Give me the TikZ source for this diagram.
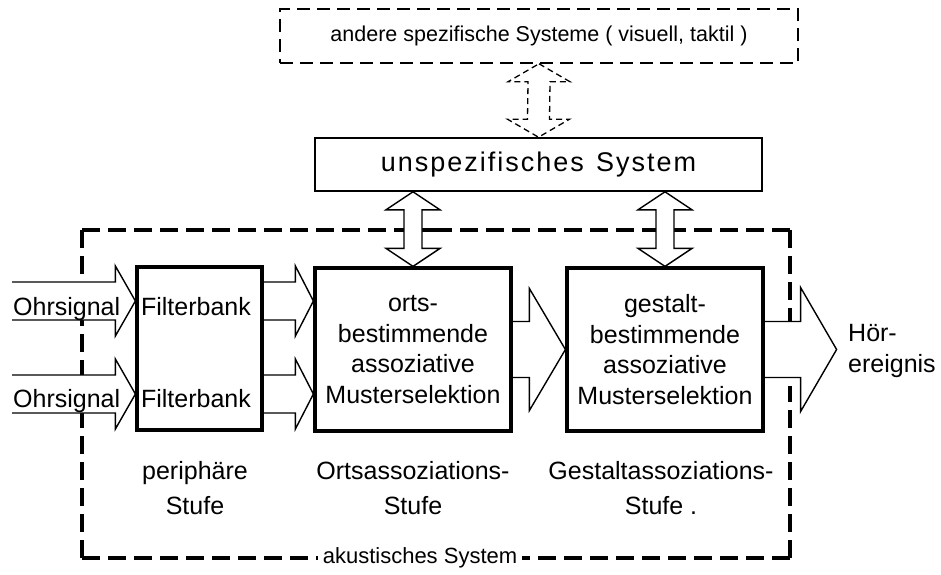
\documentclass[tikz,border=0pt]{standalone}
\usepackage{fontspec}
\setmainfont{Liberation Sans}
\usetikzlibrary{calc,backgrounds}
\newcommand\lsp{\hspace{2pt}}
% horizontal fat arrow: #1 start, #2 tip, #3 shaft half, #4 head half, #5 head length
\newcommand\harrow[5]{\filldraw[fatarr] ($(#1)+(0,#3)$) -- ($(#2)+(-#5,#3)$) -- ($(#2)+(-#5,#4)$) -- (#2) -- ($(#2)+(-#5,-#4)$) -- ($(#2)+(-#5,-#3)$) -- ($(#1)+(0,-#3)$);}
% vertical double arrow: #1 style, #2 top tip, #3 bottom tip, #4 shaft half, #5 head half, #6 head length
\newcommand\varrow[6]{\filldraw[#1] (#2) -- ($(#2)+(#5,#6)$) -- ($(#2)+(#4,#6)$) -- ($(#3)+(#4,-#6)$) -- ($(#3)+(#5,-#6)$) -- (#3) -- ($(#3)+(-#5,-#6)$) -- ($(#3)+(-#4,-#6)$) -- ($(#2)+(-#4,#6)$) -- ($(#2)+(-#5,#6)$) -- cycle;}
\begin{document}
\begin{tikzpicture}[x=1pt,y=-1pt,
  f25/.style={font=\fontsize{25}{30.5}\selectfont},
  f25b/.style={font=\fontsize{25}{35}\selectfont},
  thickbox/.style={draw=black,line width=3.2pt,inner sep=0pt},
  thinbox/.style={draw=black,line width=1.6pt,inner sep=0pt},
  dashbox/.style={draw=black,line width=1.5pt,dash pattern=on 13pt off 7pt,inner sep=0pt},
  acdash/.style={draw=black,line width=3.5pt,dash pattern=on 18pt off 8pt},
  fatarr/.style={draw=black,fill=white,line width=1.4pt,line join=miter},
  dasharr/.style={draw=black,fill=white,line width=1.3pt,dash pattern=on 6pt off 4pt}]
\useasboundingbox (0,0) rectangle (941,574);

% boxes
\node[dashbox,minimum width=518pt,minimum height=54pt,font=\fontsize{21.5}{26}\selectfont] (other) at (539,36) {andere spezifische Systeme ( visuell, taktil )\hspace{18pt}};
\node[thinbox,minimum width=447pt,minimum height=53pt,font=\fontsize{27}{32}\selectfont] (unspez) at (538.5,164.5)
  {u\lsp n\lsp s\lsp p\lsp e\lsp z\lsp i\lsp f\lsp i\lsp s\lsp c\lsp h\lsp e\lsp s\hspace{12pt}S\lsp y\lsp s\lsp t\lsp e\lsp m\hspace{10pt}};
\node[thickbox,minimum width=125pt,minimum height=163pt] (fb) at (199.5,348.5) {};
\node[thickbox,f25,align=center,minimum width=196pt,minimum height=163pt] (orts) at (413,349.5)
  {orts-\\bestimmende\\assoziative\\Musterselektion};
\node[thickbox,f25,align=center,minimum width=196pt,minimum height=163pt] (gest) at (665,349.5)
  {gestalt-\\bestimmende\\assoziative\\Musterselektion};

% texts
\node[f25,anchor=base,inner sep=0pt] (fb1) at (196,315) {Filterbank};
\node[f25,anchor=base,inner sep=0pt] (fb2) at (196,407) {Filterbank};
\node[f25,anchor=base west,inner sep=0pt] (o1) at (13,315) {Ohrsignal};
\node[f25,anchor=base west,inner sep=0pt] (o2) at (13,407) {Ohrsignal};
\node[f25b,align=center,inner sep=0pt] (l1) at (195,488) {periphäre\\Stufe};
\node[f25b,align=center,inner sep=0pt] (l2) at (413,488) {Ortsassoziations-\\Stufe};
\node[f25b,align=center,inner sep=0pt] (l3) at (661,488) {Gestaltassoziations-\\Stufe .};
\node[font=\fontsize{25}{31}\selectfont,align=left,anchor=west,inner sep=0pt] (hoer) at (848,351) {Hör-\\ereignis};
\node[font=\fontsize{22}{26}\selectfont,fill=white,inner sep=5pt] (aclabel) at (420,558) {akustisches System};

% coordinates
\coordinate (acnw) at (82,230); \coordinate (acne) at (790,230);
\coordinate (acsw) at (82,558); \coordinate (acse) at (790,558);
\coordinate (acn) at (436,230); \coordinate (acs) at (436,558);
\coordinate (acw) at (82,394);  \coordinate (ace) at (790,394);
\coordinate (in1) at (12,301); \coordinate (in2) at (12,394);
\coordinate (t1) at (fb.west |- in1); \coordinate (t2) at (fb.west |- in2);
\coordinate (s3) at (fb.east |- in1); \coordinate (t3) at (orts.west |- in1);
\coordinate (s4) at (fb.east |- in2); \coordinate (t4) at (orts.west |- in2);
\coordinate (s5) at (orts.east); \coordinate (t5) at (gest.west);
\coordinate (s6) at (gest.east); \coordinate (t6) at ($(gest.east)+(72,0)$);
\coordinate (d1) at (other.south); \coordinate (d2) at (unspez.north);
\coordinate (u1) at (unspez.south -| orts.north); \coordinate (u2) at (orts.north);
\coordinate (u3) at (unspez.south -| gest.north); \coordinate (u4) at (gest.north);

\begin{scope}[on background layer]
  \fill[white] (0,0) rectangle (941,574);
  % acoustic system frame
  \draw[acdash] (acnw) -- (acn); \draw[acdash] (acne) -- (acn);
  \draw[acdash] (acsw) -- (acs); \draw[acdash] (acse) -- (acs);
  \draw[acdash] (acnw) -- (acw); \draw[acdash] (acsw) -- (acw);
  \draw[acdash] (acne) -- (ace); \draw[acdash] (acse) -- (ace);
  % arrows
  \harrow{in1}{t1}{19}{35}{20}
  \harrow{in2}{t2}{19}{35}{20}
  \harrow{s3}{t3}{19}{35}{18}
  \harrow{s4}{t4}{19}{35}{18}
  \harrow{s5}{t5}{28}{61}{36}
  \harrow{s6}{t6}{28}{62}{36}
  \varrow{dasharr}{d1}{d2}{11}{31}{18}
  \varrow{fatarr}{u1}{u2}{9}{27}{18}
  \varrow{fatarr}{u3}{u4}{9}{27}{18}
\end{scope}
\end{tikzpicture}
\end{document}
